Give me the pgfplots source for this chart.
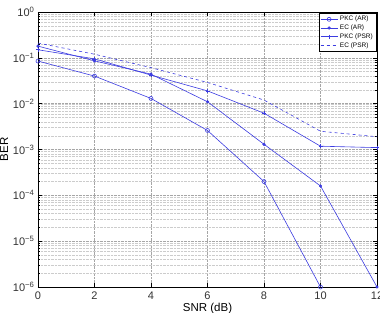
\documentclass[border=0pt]{standalone}
\usepackage{fontspec}
\setmainfont{Liberation Sans}
\usepackage{pgfplots}
\pgfplotsset{compat=1.18}
\definecolor{lineblue}{RGB}{60,60,225}
\begin{document}
\begin{tikzpicture}
\begin{axis}[
  scale only axis,
  width=339pt, height=275pt,
  ymode=log,
  xmin=0, xmax=12, ymin=1e-6, ymax=1,
  xtick={0,2,4,6,8,10,12},
  ytick={1e-6,1e-5,1e-4,1e-3,1e-2,1e-1,1},
  yticklabels={10\textsuperscript{−6},10\textsuperscript{−5},10\textsuperscript{−4},10\textsuperscript{−3},10\textsuperscript{−2},10\textsuperscript{−1},10\textsuperscript{0}},
  /pgf/number format/assume math mode=true,
  tick label style={font=\fontsize{11}{12}\selectfont, text=black!80},
  label style={font=\fontsize{11.5}{12}\selectfont},
  xlabel={SNR (dB)}, ylabel={BER},
  xlabel style={yshift=3pt},
  ylabel style={yshift=-2pt},
  xticklabel style={yshift=-1pt},
  tick align=inside,
  major tick length=4pt, minor tick length=2pt,
  grid=both,
  major grid style={densely dotted, gray!70, line width=0.4pt},
  minor grid style={densely dotted, gray!40, line width=0.3pt},
  axis line style={black, line width=0.6pt},
  every tick/.style={black, line width=0.4pt},
  legend cell align=left,
  legend style={font=\fontsize{6.5}{7}\selectfont, inner sep=1pt, row sep=-1.5pt,
    draw=black, line width=0.4pt, at={(1,1)}, anchor=north east, xshift=-1pt, yshift=-1pt},
]
% PKC over the AR channel
\addplot[lineblue, line width=0.6pt, mark=o, mark size=2pt, mark options={solid}] coordinates {
  (0,0.085) (2,0.040) (4,0.013) (6,0.0026) (8,0.0002) (10,1e-6)
};
\addlegendentry{PKC (AR)}
% EC over the AR channel
\addplot[lineblue, line width=0.6pt, mark=*, mark size=1.3pt, mark options={solid, fill=lineblue}] coordinates {
  (0,0.18) (2,0.086) (4,0.044) (6,0.011) (8,0.0013) (10,0.00016) (12,1e-6)
};
\addlegendentry{EC (AR)}
% PKC over the PSR channel
\addplot[lineblue, line width=0.6pt, mark=+, mark size=2pt, mark options={solid}] coordinates {
  (0,0.15) (2,0.095) (4,0.042) (6,0.019) (8,0.0062) (10,0.00118) (12,0.0011)
};
\addlegendentry{PKC (PSR)}
% EC over the PSR channel
\addplot[lineblue, line width=0.6pt, dashed] coordinates {
  (0,0.21) (2,0.12) (4,0.061) (6,0.029) (8,0.012) (10,0.0025) (12,0.0019)
};
\addlegendentry{EC (PSR)}
\end{axis}
\pgfresetboundingbox
\path (-38pt,-26pt) rectangle (342pt,287pt);
\end{tikzpicture}
\end{document}
